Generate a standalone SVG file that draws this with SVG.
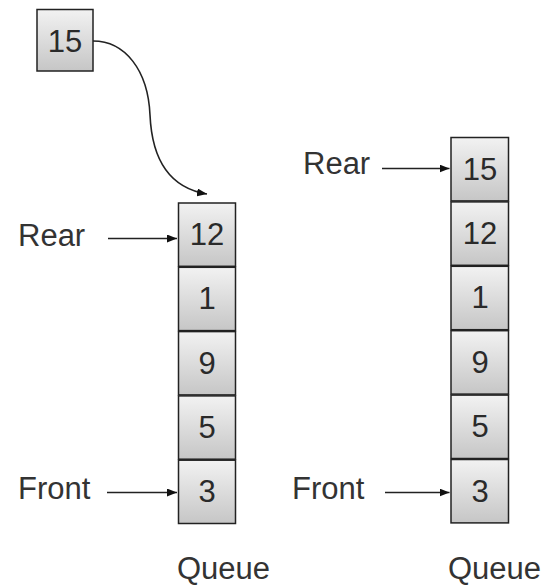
<svg xmlns="http://www.w3.org/2000/svg" width="548" height="586" viewBox="0 0 548 586">
<style>
.cell{fill:url(#g);stroke:#222;stroke-width:1.5}
.num{font-family:"Liberation Sans",Arial,sans-serif;font-size:31px;fill:#2a2a2a;text-anchor:middle}
.lbl{font-family:"Liberation Sans",Arial,sans-serif;font-size:31px;fill:#333}
.conn{fill:none;stroke:#222;stroke-width:1.6}
</style>
<defs>
<linearGradient id="g" x1="0" y1="0" x2="0" y2="1">
<stop offset="0" stop-color="#f2f2f2"/>
<stop offset="1" stop-color="#c6c6c6"/>
</linearGradient>
<marker id="ah" markerUnits="userSpaceOnUse" markerWidth="10" markerHeight="8" refX="10" refY="4" orient="auto">
<path d="M0,0 L10,4 L0,8 Z" fill="#111"/>
</marker>
</defs>
<rect width="548" height="586" fill="#fff"/>
<g id="new-15">
<rect class="cell" x="37" y="9.5" width="56" height="61.5"/>
<text class="num" x="65" y="52">15</text>
</g>
<g id="left-queue">
<rect class="cell" x="178.5" y="203" width="57" height="63.3"/>
<text class="num" x="207" y="245">12</text>
<rect class="cell" x="178.5" y="267.3" width="57" height="63.3"/>
<text class="num" x="207" y="309.3">1</text>
<rect class="cell" x="178.5" y="331.6" width="57" height="63.3"/>
<text class="num" x="207" y="373.6">9</text>
<rect class="cell" x="178.5" y="395.9" width="57" height="63.3"/>
<text class="num" x="207" y="437.9">5</text>
<rect class="cell" x="178.5" y="460.2" width="57" height="63.3"/>
<text class="num" x="207" y="502.2">3</text>
</g>
<g id="right-queue">
<rect class="cell" x="451" y="137.5" width="57.5" height="63.4"/>
<text class="num" x="480" y="179.5">15</text>
<rect class="cell" x="451" y="201.9" width="57.5" height="63.4"/>
<text class="num" x="480" y="243.9">12</text>
<rect class="cell" x="451" y="266.3" width="57.5" height="63.4"/>
<text class="num" x="480" y="308.3">1</text>
<rect class="cell" x="451" y="330.7" width="57.5" height="63.4"/>
<text class="num" x="480" y="372.7">9</text>
<rect class="cell" x="451" y="395.1" width="57.5" height="63.4"/>
<text class="num" x="480" y="437.1">5</text>
<rect class="cell" x="451" y="459.5" width="57.5" height="63.4"/>
<text class="num" x="480" y="501.5">3</text>
</g>
<g id="labels">
<text class="lbl" x="18" y="246">Rear</text>
<text class="lbl" x="18" y="499">Front</text>
<text class="lbl" x="303" y="174">Rear</text>
<text class="lbl" x="292" y="499">Front</text>
<text class="lbl" x="177" y="579">Queue</text>
<text class="lbl" x="448" y="579">Queue</text>
</g>
<g id="connectors">
<path class="conn" marker-end="url(#ah)" d="M93,41 C125,41 148,70 150,115 C152,160 170,188 207,194"/>
<line class="conn" marker-end="url(#ah)" x1="108" y1="238.5" x2="177" y2="238.5"/>
<line class="conn" marker-end="url(#ah)" x1="107" y1="492.5" x2="177" y2="492.5"/>
<line class="conn" marker-end="url(#ah)" x1="382" y1="168.5" x2="449.5" y2="168.5"/>
<line class="conn" marker-end="url(#ah)" x1="385" y1="492.5" x2="449.5" y2="492.5"/>
</g>
</svg>
